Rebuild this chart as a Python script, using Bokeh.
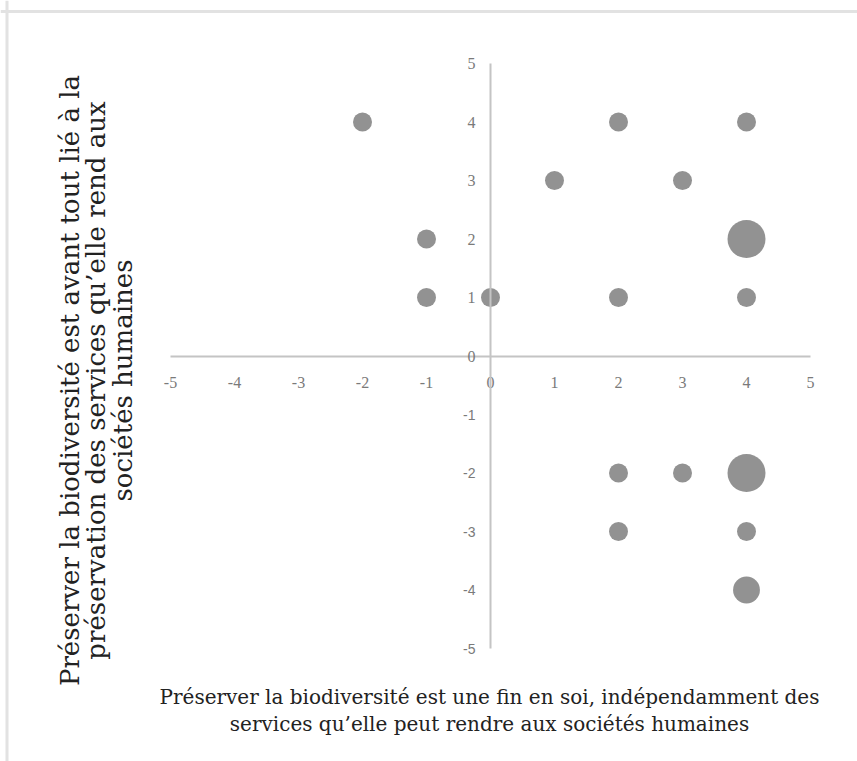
import math
from bokeh.plotting import figure
from bokeh.models import LinearAxis, FixedTicker, Label, Span, ColumnDataSource, Range1d
from bokeh.embed import file_html
from bokeh.resources import INLINE

# ---- data ----
x_vals = [-2, 2, 4, 1, 3, -1, 4, -1, 0, 2, 4, 2, 3, 4, 2, 4, 4]
y_vals = [4, 4, 4, 3, 3, 2, 2, 1, 1, 1, 1, -2, -2, -2, -3, -3, -4]
counts = [1, 1, 1, 1, 1, 1, 4, 1, 1, 1, 1, 1, 1, 4, 1, 1, 2]
x_ticks = [-5, -4, -3, -2, -1, 0, 1, 2, 3, 4, 5]
y_ticks_pos = [0, 1, 2, 3, 4, 5]
y_ticks_neg = [-5, -4, -3, -2, -1]
x_title = "Préserver la biodiversité est une fin en soi, indépendamment des\nservices qu\u2019elle peut rendre aux sociétés humaines"
y_title = "Préserver la biodiversité est avant tout lié à la\npréservation des services qu\u2019elle rend aux\nsociétés humaines"

# ---- layout ----
W, H = 857, 761
UX, UY = 64.0, 58.5          # px per unit
X0PX, Y0PX = 490.0, 355.5    # figure px of origin
x0 = -X0PX / UX
x1 = x0 + W / UX
y1 = Y0PX / UY
y0 = y1 - H / UY

def px_x(px):
    return x0 + px / UX

def px_y(py):
    return y1 - py / UY

p = figure(width=W, height=H, output_backend="svg", toolbar_location=None,
           x_range=Range1d(x0, x1), y_range=Range1d(y0, y1),
           x_axis_location=None, y_axis_location=None,
           min_border=0, min_border_left=0, min_border_right=0,
           min_border_top=0, min_border_bottom=0)
p.outline_line_color = None
p.grid.visible = False
p.background_fill_color = "white"
p.border_fill_color = "white"

AXIS_COLOR = "#c4c4c4"
TICK_COLOR = "#7a7a7a"

def labels_for(ticks):
    return {t: str(t) for t in ticks}

xa = LinearAxis(fixed_location=0, ticker=FixedTicker(ticks=x_ticks), bounds=(-5, 5))
xa.axis_line_color = AXIS_COLOR
xa.axis_line_width = 2
xa.major_tick_line_color = None
xa.minor_tick_line_color = None
xa.major_label_standoff = 15
xa.major_label_text_font = "Liberation Serif"
xa.major_label_text_font_size = "16px"
xa.major_label_text_color = TICK_COLOR
xa.major_label_overrides = labels_for(x_ticks)
p.add_layout(xa, "below")

ya = LinearAxis(fixed_location=0, ticker=FixedTicker(ticks=y_ticks_pos), bounds=(-5, 5))
ya.axis_line_color = AXIS_COLOR
ya.axis_line_width = 2
ya.major_tick_line_color = None
ya.minor_tick_line_color = None
ya.major_label_standoff = 9
ya.major_label_text_font = "Liberation Serif"
ya.major_label_text_font_size = "16px"
ya.major_label_text_color = TICK_COLOR
ya.major_label_orientation = "horizontal"
ya.major_label_overrides = labels_for(y_ticks_pos)
p.add_layout(ya, "left")

yb = LinearAxis(fixed_location=0, ticker=FixedTicker(ticks=y_ticks_neg), bounds=(-5, 5))
yb.axis_line_color = None
yb.major_tick_line_color = None
yb.minor_tick_line_color = None
yb.major_label_standoff = 9
yb.major_label_text_font = "Liberation Sans"
yb.major_label_text_font_size = "14px"
yb.major_label_text_color = TICK_COLOR
yb.major_label_orientation = "horizontal"
yb.major_label_overrides = labels_for(y_ticks_neg)
p.add_layout(yb, "left")

sizes = [19.0 * math.sqrt(c) for c in counts]
src = ColumnDataSource(dict(x=x_vals, y=y_vals, size=sizes))
p.scatter("x", "y", size="size", source=src, fill_color="#929292",
          line_color=None)

# outer border (top & left)
p.add_layout(Span(location=px_y(11), dimension="width", line_color="#e2e2e2", line_width=3))
p.add_layout(Span(location=px_x(6.5), dimension="height", line_color="#e2e2e2", line_width=3))

p.add_layout(Label(x=px_x(489), y=px_y(710), text=x_title, text_align="center",
                   text_baseline="middle", text_font="DejaVu Serif",
                   text_font_size="20px", text_color="#222222", text_line_height=1.12))
p.add_layout(Label(x=px_x(96), y=px_y(380), text=y_title, text_align="center",
                   text_baseline="middle", text_font="DejaVu Serif",
                   text_font_size="26px", text_color="#222222", angle=math.pi / 2,
                   text_line_height=0.87))

open("out.html", "w").write(file_html(p, INLINE))
